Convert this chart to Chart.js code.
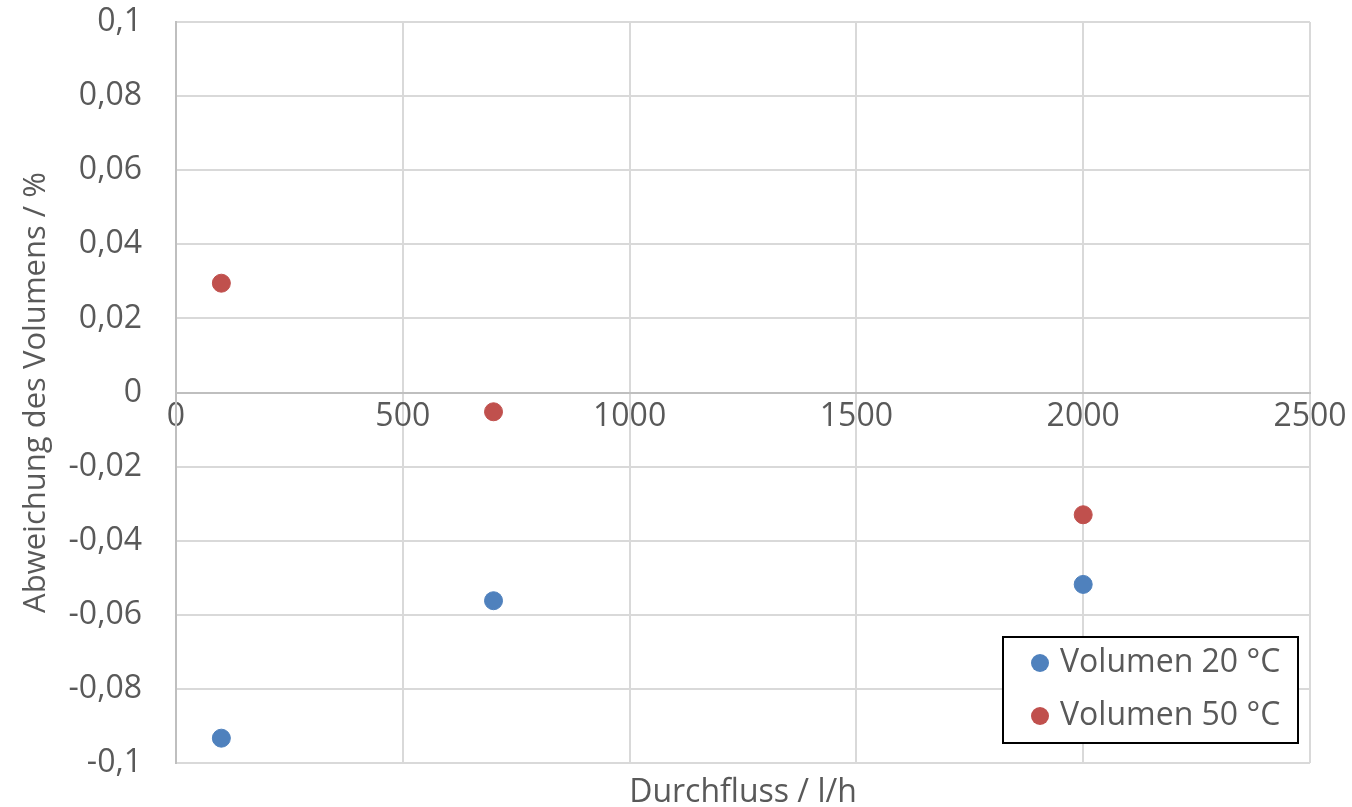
<!DOCTYPE html>
<html>
<head>
<meta charset="utf-8">
<script src="https://cdn.jsdelivr.net/npm/chart.js@4/dist/chart.umd.min.js"></script>
<style>
  html, body { margin: 0; padding: 0; background: #fff; }
  #wrap { width: 1352px; height: 807px; }
</style>
</head>
<body>
<div id="wrap"><canvas id="chart" width="1352" height="807"></canvas></div>
<script>
// flow rates (l/h)
const flowRates = [100, 700, 2000];
// volume deviation in %
const dev20 = [-0.0933, -0.0562, -0.0518];
const dev50 = [0.0295, -0.0052, -0.0330];
const seriesNames = ['Volumen 20 °C', 'Volumen 50 °C'];
const seriesColors = ['#4f81bd', '#c0504d'];
const xTitle = 'Durchfluss / l/h';
const yTitle = 'Abweichung des Volumens / %';

const FONT = '"Open Sans", sans-serif';
const FS = 32;
const textColor = '#595959';
const gridColor = '#d9d9d9';

const toPoints = (ys) => flowRates.map((x, i) => ({ x: x, y: ys[i] }));
const fmt = (v) => String(Number(v.toFixed(3))).replace('.', ',');

// x axis title under the plot + legend box inside plot area
const extras = {
  id: 'extras',
  afterDraw(chart) {
    const ctx = chart.ctx;
    const a = chart.chartArea;
    ctx.save();
    ctx.font = FS + 'px ' + FONT;
    ctx.fillStyle = textColor;
    ctx.textAlign = 'center';
    ctx.textBaseline = 'middle';
    ctx.fillText(xTitle, (a.left + a.right) / 2, a.bottom + 30);

    const w = 295, h = 106;
    const bx = a.right - 12 - w, by = a.bottom - 20 - h;
    ctx.fillStyle = '#fff';
    ctx.fillRect(bx, by, w, h);
    ctx.strokeStyle = '#000';
    ctx.lineWidth = 2;
    ctx.strokeRect(bx, by, w, h);
    ctx.textAlign = 'left';
    seriesNames.forEach((name, i) => {
      const cy = by + 26 + i * 53;
      ctx.beginPath();
      ctx.arc(bx + 37, cy, 9, 0, Math.PI * 2);
      ctx.fillStyle = seriesColors[i];
      ctx.fill();
      ctx.fillStyle = textColor;
      ctx.fillText(name, bx + 57, cy);
    });
    ctx.restore();
  }
};

new Chart(document.getElementById('chart'), {
  type: 'scatter',
  data: {
    datasets: [
      { label: seriesNames[0], data: toPoints(dev20), backgroundColor: seriesColors[0], borderColor: seriesColors[0], pointRadius: 9, pointHoverRadius: 9 },
      { label: seriesNames[1], data: toPoints(dev50), backgroundColor: seriesColors[1], borderColor: seriesColors[1], pointRadius: 9, pointHoverRadius: 9 }
    ]
  },
  options: {
    responsive: false,
    animation: false,
    layout: { padding: { top: 22, right: 42, bottom: 44, left: 0 } },
    plugins: {
      legend: { display: false },
      tooltip: { enabled: false }
    },
    scales: {
      x: {
        type: 'linear',
        position: { y: 0 },
        min: 0,
        max: 2500,
        afterFit(scale) { scale.paddingLeft = 0; scale.paddingRight = 0; },
        ticks: { stepSize: 500, color: textColor, font: { family: FONT, size: FS }, padding: 5, maxRotation: 0, callback: (v) => String(v) },
        grid: { color: gridColor, lineWidth: 2, drawTicks: false },
        border: { color: '#bfbfbf', width: 2 }
      },
      y: {
        type: 'linear',
        min: -0.1,
        max: 0.1,
        afterFit(scale) { scale.width = 176; scale.paddingTop = 0; scale.paddingBottom = 0; },
        ticks: { stepSize: 0.02, color: textColor, font: { family: FONT, size: FS }, padding: 34, callback: (v) => fmt(v) },
        grid: { color: gridColor, lineWidth: 2, drawTicks: false },
        border: { color: '#bfbfbf', width: 2 },
        title: { display: true, text: yTitle, color: textColor, font: { family: FONT, size: 31 }, padding: { top: 18, bottom: 0 } }
      }
    }
  },
  plugins: [extras]
});
</script>
</body>
</html>
